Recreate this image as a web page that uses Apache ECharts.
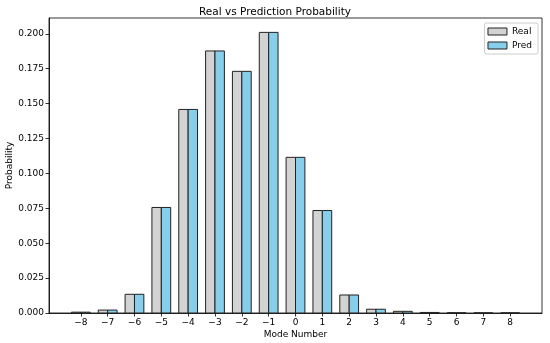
<!DOCTYPE html>
<html>
<head>
<meta charset="utf-8">
<script src="https://cdn.jsdelivr.net/npm/echarts@6/dist/echarts.min.js"></script>
<style>html,body{margin:0;padding:0;background:#fff}#c{width:550px;height:343px}</style>
</head>
<body>
<div id="c"></div>
<script>
var modes = [-8,-7,-6,-5,-4,-3,-2,-1,0,1,2,3,4,5,6,7,8];
var realVals = [0.0006,0.0021,0.0134,0.0756,0.1458,0.1877,0.1731,0.2010,0.1115,0.0734,0.0129,0.0027,0.0012,0.0004,0.0002,0.0001,0.0001];
var predVals = [0.0006,0.0021,0.0134,0.0756,0.1458,0.1877,0.1731,0.2010,0.1115,0.0734,0.0129,0.0027,0.0012,0.0004,0.0002,0.0001,0.0001];
var yTicks = [0.000,0.025,0.050,0.075,0.100,0.125,0.150,0.175,0.200];
var BW = 0.35;

function makeData(vals){ return modes.map(function(m,i){ return [m, vals[i]]; }); }
function renderer(offsetSign){
  return function(params, api){
    var x = api.value(0), y = api.value(1);
    var x0 = offsetSign < 0 ? x - BW : x;
    var p1 = api.coord([x0, y]);
    var p2 = api.coord([x0 + BW, 0]);
    return {
      type: 'rect',
      shape: {x: p1[0], y: p1[1], width: p2[0]-p1[0], height: p2[1]-p1[1]},
      style: {fill: api.visual('color'), stroke: '#222', lineWidth: 1}
    };
  };
}
var font = 'DejaVu Sans';
var chart = echarts.init(document.getElementById('c'), null, {renderer:'canvas'});
chart.setOption({
  animation: false,
  textStyle: {fontFamily: font},
  title: {text: 'Real vs Prediction Probability', left: 'center', top: 2,
    textStyle: {fontFamily: font, fontSize: 10.5, fontWeight: 'normal', color: '#000'}},
  legend: {
    data: [{name:'Real', icon:'rect'},{name:'Pred', icon:'rect'}],
    orient: 'vertical', right: 12, top: 23, itemWidth: 19, itemHeight: 7, itemGap: 5,
    padding: [4,6,4,3], borderColor: '#ccc', borderWidth: 1, borderRadius: 2,
    textStyle: {fontFamily: font, fontSize: 9, color: '#000', padding:[0,0,0,0]},
    itemStyle: {borderColor: '#222', borderWidth: 1}
  },
  grid: {left: 49, right: 8, top: 18, bottom: 30, containLabel: false, outerBoundsMode: 'none'},
  xAxis: {
    type: 'value', min: -9.185, max: 9.185, interval: 1,
    name: 'Mode Number', nameLocation: 'middle', nameGap: 17, nameMoveOverlap: false,
    nameTextStyle: {fontFamily: font, fontSize: 9, color: '#000'},
    axisLine: {onZero: false, lineStyle: {color: '#000', width: 0.8}},
    axisTick: {show: true, length: 3.5, lineStyle: {color: '#000', width: 0.8},
      customValues: modes},
    axisLabel: {customValues: modes, fontFamily: font, fontSize: 9, color: '#000', margin: 5,
      formatter: function(v){ return v < 0 ? '\u2212' + Math.abs(v) : String(v); }},
    splitLine: {show: false}
  },
  yAxis: {
    type: 'value', min: 0, max: 0.2113,
    name: 'Probability', nameLocation: 'middle', nameGap: 39, nameRotate: 90, nameMoveOverlap: false,
    nameTextStyle: {fontFamily: font, fontSize: 9, color: '#000', verticalAlign: 'middle'},
    axisLine: {show: true, onZero: false, lineStyle: {color: '#000', width: 0.8}},
    axisTick: {show: true, length: 3.5, lineStyle: {color: '#000', width: 0.8}, customValues: yTicks},
    axisLabel: {customValues: yTicks, fontFamily: font, fontSize: 9, color: '#000', margin: 5,
      formatter: function(v){ return v.toFixed(3); }},
    splitLine: {show: false}
  },
  series: [
    {name: 'Real', type: 'custom', renderItem: renderer(-1), data: makeData(realVals),
      itemStyle: {color: '#d3d3d3', borderColor:'#222', borderWidth:1}, encode: {x:0, y:1}},
    {name: 'Pred', type: 'custom', renderItem: renderer(1), data: makeData(predVals),
      itemStyle: {color: '#87ceeb', borderColor:'#222', borderWidth:1}, encode: {x:0, y:1}}
  ]
});
chart.setOption({graphic: (function(){
  var a = chart.convertToPixel({gridIndex:0}, [-9.185, 0.2113]);
  var b = chart.convertToPixel({gridIndex:0}, [9.185, 0]);
  return [{type:'rect', shape:{x:a[0], y:a[1], width:b[0]-a[0], height:b[1]-a[1]},
    style:{fill:null, stroke:'#000', lineWidth:0.8}, silent:true, z:-1}];
})()});
</script>
</body>
</html>
